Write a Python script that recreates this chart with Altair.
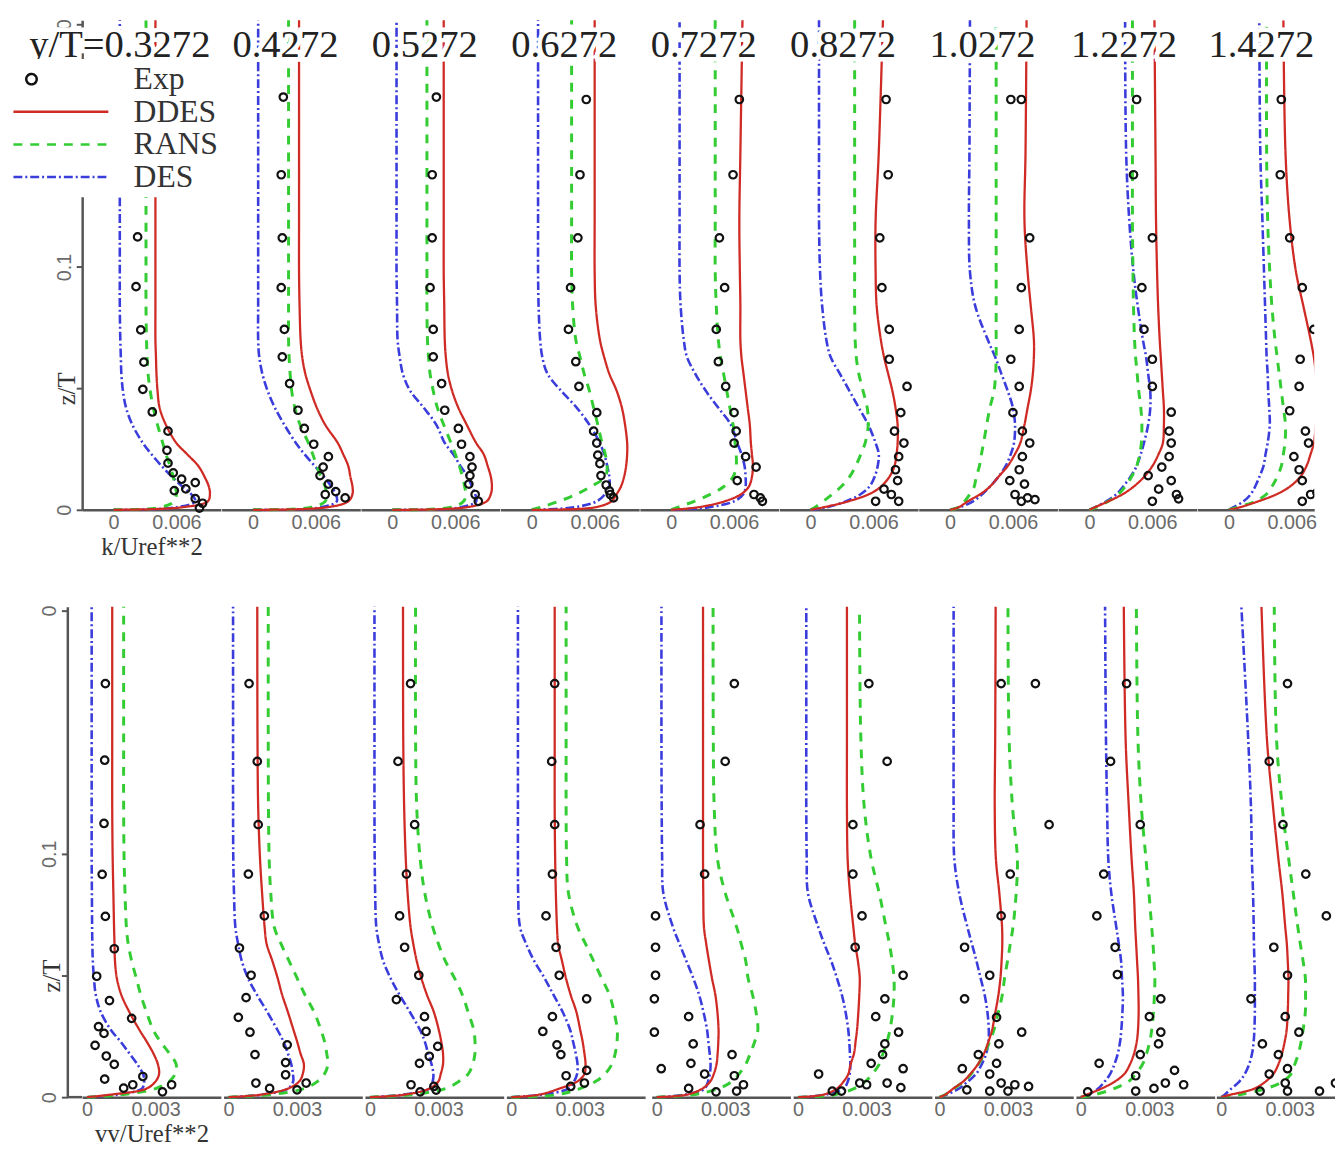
import altair as alt
import pandas as pd

# ---------------- data ----------------
# wall-normal stations for the simulated profiles (z/T)
ZL = [0, 0.001, 0.0035, 0.0065, 0.0095, 0.0135, 0.018, 0.023, 0.0275, 0.035,
      0.042, 0.049, 0.056, 0.063, 0.070, 0.084, 0.098, 0.119, 0.147, 0.2016]

CAPTIONS = ["y/T=0.3272", "0.4272", "0.5272", "0.6272", "0.7272",
            "0.8272", "1.0272", "1.2272", "1.4272"]
CAPTION_X = [0.6, 3.1, 3.1, 3.1, 3.1, 3.1, 3.1, 3.3, 3.1]   # x 1e-3, top-row units
CAPTION_Z = 0.1915

# k/Uref**2 (x 1e-3), one list per station
K_DDES = [
    [0, 6.5, 9.0, 9.2, 9.1, 8.7, 8.1, 7.0, 6.0, 5.0, 4.4, 4.2, 4.1, 4.05, 4.0, 4.0, 4.0, 4.0, 4.0, 4.0],
    [0, 7.0, 9.1, 9.5, 9.5, 9.3, 9.1, 8.6, 8.1, 6.9, 6.1, 5.5, 5.0, 4.7, 4.55, 4.45, 4.4, 4.4, 4.4, 4.4],
    [0, 7.0, 9.0, 9.4, 9.5, 9.4, 9.1, 8.7, 8.0, 7.1, 6.3, 5.7, 5.3, 5.1, 5.0, 4.95, 4.9, 4.9, 4.9, 4.9],
    [0, 6.0, 7.6, 8.1, 8.5, 8.8, 9.0, 9.1, 9.1, 8.9, 8.6, 8.1, 7.4, 6.9, 6.5, 6.1, 6.0, 6.0, 6.0, 6.0],
    [0, 2.5, 5.1, 6.7, 7.4, 7.7, 7.8, 7.7, 7.6, 7.5, 7.3, 7.1, 6.9, 6.7, 6.6, 6.6, 6.55, 6.5, 6.6, 6.8],
    [0, 1.2, 3.6, 5.6, 6.7, 7.5, 8.0, 8.2, 8.3, 8.3, 8.1, 7.8, 7.4, 7.0, 6.7, 6.3, 6.2, 6.2, 6.5, 6.9],
    [0, 0.8, 1.7, 2.9, 3.8, 4.6, 5.5, 6.2, 6.7, 7.1, 7.4, 7.7, 7.9, 8.0, 8.0, 7.7, 7.4, 7.1, 7.2, 7.3],
    [0, 0.5, 1.8, 3.2, 4.2, 5.2, 6.0, 6.6, 7.0, 7.1, 7.1, 7.0, 6.9, 6.8, 6.7, 6.55, 6.45, 6.35, 6.3, 6.2],
    [0, 1.0, 2.8, 4.6, 5.8, 6.8, 7.4, 7.8, 8.1, 8.3, 8.4, 8.4, 8.3, 8.1, 7.8, 7.1, 6.4, 5.8, 5.4, 5.2],
]
K_RANS = [
    [0, 4.5, 5.8, 6.0, 5.9, 5.7, 5.4, 5.0, 4.7, 4.2, 3.8, 3.5, 3.3, 3.2, 3.15, 3.1, 3.1, 3.1, 3.1, 3.1],
    [0, 5.5, 6.9, 7.0, 6.9, 6.5, 6.1, 5.7, 5.3, 4.5, 4.0, 3.7, 3.55, 3.45, 3.4, 3.4, 3.4, 3.4, 3.4, 3.4],
    [0, 5.5, 6.8, 7.0, 6.9, 6.7, 6.4, 6.0, 5.6, 4.9, 4.3, 3.9, 3.6, 3.45, 3.35, 3.3, 3.3, 3.3, 3.3, 3.3],
    [0, 0.8, 2.6, 4.3, 5.6, 7.0, 7.2, 7.0, 6.7, 6.3, 5.9, 5.5, 5.0, 4.6, 4.2, 3.9, 3.8, 3.8, 3.8, 3.8],
    [0, 0.6, 2.2, 3.8, 5.0, 5.9, 6.2, 6.2, 6.1, 5.9, 5.6, 5.3, 5.0, 4.7, 4.5, 4.3, 4.2, 4.2, 4.2, 4.2],
    [0, 0.4, 1.2, 2.1, 2.9, 3.7, 4.3, 4.8, 5.2, 5.5, 5.4, 5.0, 4.6, 4.35, 4.25, 4.2, 4.2, 4.2, 4.2, 4.2],
    [0, 0.8, 1.4, 1.9, 2.3, 2.5, 2.8, 3.0, 3.2, 3.5, 3.8, 4.2, 4.35, 4.4, 4.4, 4.4, 4.4, 4.4, 4.4, 4.4],
    [0, 0.6, 1.8, 2.8, 3.4, 4.0, 4.5, 4.8, 4.95, 5.0, 4.9, 4.7, 4.55, 4.4, 4.3, 4.2, 4.15, 4.1, 4.1, 4.1],
    [0, 0.8, 2.5, 3.6, 4.1, 4.6, 5.0, 5.2, 5.35, 5.4, 5.2, 5.0, 4.8, 4.6, 4.4, 4.1, 3.9, 3.7, 3.6, 3.6],
]
K_DES = [
    [0, 6.0, 7.8, 7.4, 6.6, 5.6, 4.6, 3.6, 2.8, 1.8, 1.2, 0.9, 0.75, 0.7, 0.65, 0.6, 0.6, 0.6, 0.6, 0.6],
    [0, 6.5, 8.0, 7.9, 7.5, 6.8, 5.9, 4.9, 4.1, 3.0, 2.1, 1.4, 0.9, 0.6, 0.5, 0.5, 0.5, 0.5, 0.5, 0.5],
    [0, 6.5, 8.0, 7.9, 7.6, 7.2, 6.5, 5.8, 5.0, 4.2, 3.0, 1.7, 1.0, 0.7, 0.5, 0.45, 0.4, 0.4, 0.4, 0.4],
    [0, 4.0, 6.2, 7.0, 7.4, 7.4, 7.2, 6.9, 6.5, 5.5, 4.3, 2.8, 1.5, 1.0, 0.8, 0.65, 0.6, 0.6, 0.6, 0.6],
    [0, 3.5, 6.0, 6.9, 7.1, 7.1, 7.0, 6.7, 6.3, 5.7, 4.5, 3.3, 2.3, 1.5, 1.2, 0.9, 0.8, 0.8, 0.8, 0.8],
    [0, 1.5, 3.4, 4.8, 5.6, 6.1, 6.4, 6.5, 6.2, 5.5, 4.6, 3.7, 2.8, 1.9, 1.5, 1.1, 0.9, 0.8, 0.8, 0.8],
    [0, 0.9, 2.2, 3.1, 3.8, 4.6, 5.3, 5.8, 6.1, 6.2, 6.0, 5.5, 4.9, 4.3, 3.6, 2.4, 1.9, 1.8, 1.85, 1.9],
    [0, 0.5, 1.6, 2.6, 3.2, 3.9, 4.5, 4.9, 5.2, 5.6, 5.8, 5.8, 5.6, 5.4, 5.1, 4.6, 4.2, 3.8, 3.5, 3.4],
    [0, 0.4, 1.4, 2.1, 2.5, 2.9, 3.3, 3.5, 3.7, 3.9, 3.85, 3.75, 3.7, 3.6, 3.55, 3.45, 3.35, 3.2, 3.0, 2.9],
]
# experiment: (k x 1e-3, z/T)
K_EXP = [
    [(2.4, .169), (2.3, .138), (2.3, .1124), (2.15, .0919), (2.6, .0741), (2.9, .0608), (2.8, .0496),
     (3.7, .0403), (5.2, .0324), (5.1, .0245), (5.2, .0192), (5.7, .0152), (6.5, .0126), (5.8, .0079),
     (6.9, .0086), (7.8, .0112), (7.8, .0046), (8.5, .0027), (8.2, .0007)],
    [(2.9, .170), (2.7, .138), (2.8, .112), (2.7, .0915), (3.0, .0743), (2.8, .063), (3.5, .052),
     (4.3, .041), (4.9, .0335), (5.8, .027), (7.2, .0219), (6.7, .0176), (6.4, .0141), (7.2, .0106),
     (6.9, .0063), (7.9, .0075), (8.8, .0049)],
    [(4.2, .170), (3.8, .138), (3.8, .112), (3.6, .0915), (3.9, .0743), (3.9, .063), (4.7, .052),
     (5.0, .041), (6.3, .0335), (6.6, .027), (7.4, .0219), (7.6, .0176), (7.4, .0141), (7.3, .0106),
     (7.9, .0063), (8.2, .0035)],
    [(5.2, .169), (4.6, .138), (4.4, .112), (3.7, .0915), (3.5, .0743), (4.2, .061), (4.5, .0508),
     (6.2, .040), (5.9, .0324), (6.2, .0275), (6.3, .0225), (6.5, .019), (6.6, .0141), (7.1, .0102),
     (7.4, .0078), (7.5, .0063), (7.8, .0049)],
    [(6.5, .169), (5.9, .138), (4.6, .112), (5.1, .0915), (4.3, .0743), (4.5, .061), (5.2, .0508),
     (6.0, .040), (6.2, .0324), (6.0, .0275), (7.1, .0219), (8.1, .0176), (6.3, .012), (7.9, .0063),
     (8.5, .0049), (8.7, .0035)],
    [(7.2, .169), (7.4, .138), (6.6, .112), (6.8, .0915), (7.5, .0743), (7.5, .062), (9.2, .0508),
     (8.6, .040), (8.0, .0324), (8.9, .0275), (8.4, .0219), (8.1, .0165), (8.3, .012), (7.0, .0085),
     (7.7, .0063), (8.4, .0035), (6.2, .0035)],
    [(5.8, .169), (6.8, .169), (7.6, .112), (6.8, .0915), (6.6, .0743), (5.8, .062), (6.6, .0508),
     (6.0, .040), (6.9, .0324), (7.6, .0275), (6.9, .0219), (6.6, .0165), (5.7, .012), (7.1, .0106),
     (6.2, .0063), (7.4, .0049), (8.1, .0042), (6.8, .0035)],
    [(4.5, .169), (4.2, .138), (6.0, .112), (5.0, .0915), (5.2, .0743), (6.0, .062), (6.0, .0508),
     (7.8, .0402), (7.6, .0324), (7.8, .0275), (7.6, .0219), (6.9, .0176), (5.6, .0141), (7.8, .012),
     (6.6, .0085), (8.3, .0063), (8.5, .0045), (6.0, .0035)],
    [(5.0, .169), (4.9, .138), (5.8, .112), (7.0, .0915), (8.1, .0743), (6.8, .062), (6.7, .0508),
     (5.8, .0408), (7.3, .0324), (7.6, .0275), (6.2, .0219), (6.7, .0165), (7.0, .012), (7.8, .0063),
     (8.4, .007), (8.9, .0049), (7.0, .0035)],
]

# vv/Uref**2 (x 1e-3)
VV_DDES = [
    [0, 1.0, 2.6, 3.0, 3.15, 3.1, 2.9, 2.6, 2.3, 1.85, 1.5, 1.3, 1.22, 1.2, 1.18, 1.15, 1.12, 1.1, 1.1, 1.1],
    [0, 1.4, 2.6, 3.1, 3.25, 3.3, 3.15, 3.0, 2.85, 2.6, 2.35, 2.15, 1.92, 1.67, 1.58, 1.47, 1.38, 1.3, 1.27, 1.26],
    [0, 1.5, 2.6, 3.0, 3.1, 3.2, 3.2, 3.12, 3.02, 2.8, 2.5, 2.25, 2.05, 1.9, 1.78, 1.65, 1.57, 1.5, 1.46, 1.45],
    [0, 1.2, 2.1, 2.9, 3.2, 3.25, 3.2, 3.12, 3.02, 2.85, 2.6, 2.39, 2.22, 2.05, 2.0, 1.95, 1.92, 1.9, 1.9, 1.9],
    [0, 1.3, 2.0, 2.35, 2.5, 2.62, 2.67, 2.7, 2.71, 2.66, 2.57, 2.42, 2.29, 2.17, 2.07, 2.04, 2.03, 2.03, 2.03, 2.03],
    [0, 1.1, 1.7, 2.0, 2.2, 2.3, 2.45, 2.52, 2.58, 2.64, 2.68, 2.7, 2.62, 2.5, 2.42, 2.27, 2.17, 2.14, 2.14, 2.14],
    [0, 0.25, 0.6, 1.05, 1.35, 1.68, 1.95, 2.15, 2.3, 2.45, 2.58, 2.67, 2.72, 2.75, 2.74, 2.62, 2.47, 2.42, 2.44, 2.46],
    [0, 0.25, 0.9, 1.5, 1.9, 2.15, 2.33, 2.45, 2.5, 2.53, 2.52, 2.5, 2.46, 2.42, 2.38, 2.32, 2.22, 2.1, 1.96, 1.88],
    [0, 0.4, 1.45, 1.95, 2.28, 2.5, 2.66, 2.78, 2.86, 2.91, 2.93, 2.94, 2.91, 2.87, 2.8, 2.67, 2.5, 2.27, 2.0, 1.76],
]
VV_RANS = [
    [0, 1.5, 3.0, 3.6, 3.85, 3.9, 3.6, 3.2, 2.9, 2.6, 2.35, 2.15, 1.95, 1.8, 1.72, 1.66, 1.62, 1.6, 1.6, 1.6],
    [0, 1.8, 3.3, 3.9, 4.2, 4.35, 4.3, 4.2, 4.05, 3.75, 3.35, 3.0, 2.65, 2.3, 2.0, 1.85, 1.78, 1.75, 1.74, 1.74],
    [0, 1.8, 3.3, 3.9, 4.3, 4.5, 4.6, 4.6, 4.55, 4.3, 4.05, 3.7, 3.3, 3.0, 2.75, 2.4, 2.2, 2.05, 2.0, 2.0],
    [0, 2.0, 3.0, 3.7, 4.1, 4.4, 4.55, 4.63, 4.64, 4.5, 4.3, 3.95, 3.6, 3.25, 2.9, 2.5, 2.42, 2.4, 2.4, 2.4],
    [0, 1.6, 2.7, 3.3, 3.6, 3.9, 4.1, 4.3, 4.43, 4.35, 4.2, 4.0, 3.9, 3.7, 3.5, 3.0, 2.66, 2.52, 2.48, 2.47],
    [0, 1.6, 2.45, 2.95, 3.25, 3.55, 3.72, 3.9, 4.02, 4.14, 4.2, 4.2, 4.12, 4.0, 3.85, 3.55, 3.2, 2.9, 2.75, 2.69],
    [0, 0.25, 0.62, 1.08, 1.38, 1.7, 1.97, 2.2, 2.38, 2.58, 2.75, 2.85, 2.98, 3.1, 3.22, 3.36, 3.41, 3.2, 3.05, 3.0],
    [0, 0.6, 1.45, 2.1, 2.4, 2.7, 2.88, 3.02, 3.1, 3.18, 3.22, 3.24, 3.2, 3.16, 3.1, 2.98, 2.85, 2.65, 2.5, 2.43],
    [0, 0.8, 1.95, 2.7, 3.05, 3.22, 3.38, 3.5, 3.58, 3.68, 3.69, 3.68, 3.58, 3.46, 3.35, 3.15, 2.95, 2.67, 2.42, 2.32],
]
VV_DES = [
    [0, 1.3, 2.4, 2.5, 2.45, 2.2, 1.85, 1.45, 1.05, 0.6, 0.38, 0.3, 0.25, 0.23, 0.22, 0.21, 0.2, 0.2, 0.2, 0.2],
    [0, 1.4, 2.6, 2.83, 2.82, 2.75, 2.6, 2.4, 2.15, 1.7, 1.25, 0.85, 0.58, 0.42, 0.3, 0.24, 0.21, 0.2, 0.2, 0.2],
    [0, 1.4, 2.6, 2.75, 2.78, 2.7, 2.55, 2.4, 2.2, 1.75, 1.3, 0.9, 0.58, 0.4, 0.28, 0.23, 0.21, 0.2, 0.2, 0.2],
    [0, 1.3, 2.5, 2.75, 2.88, 2.9, 2.82, 2.7, 2.58, 2.25, 1.85, 1.45, 1.0, 0.65, 0.38, 0.3, 0.29, 0.29, 0.29, 0.29],
    [0, 1.2, 2.1, 2.25, 2.33, 2.36, 2.32, 2.26, 2.21, 2.05, 1.86, 1.6, 1.3, 1.0, 0.71, 0.29, 0.24, 0.22, 0.21, 0.21],
    [0, 1.2, 2.0, 2.18, 2.26, 2.29, 2.27, 2.24, 2.2, 2.08, 1.92, 1.7, 1.45, 1.15, 0.88, 0.43, 0.38, 0.36, 0.36, 0.36],
    [0, 0.3, 0.85, 1.25, 1.6, 1.85, 2.05, 2.15, 2.16, 2.1, 1.98, 1.8, 1.62, 1.42, 1.22, 0.86, 0.65, 0.62, 0.62, 0.62],
    [0, 0.3, 0.75, 1.05, 1.28, 1.47, 1.62, 1.72, 1.77, 1.82, 1.84, 1.8, 1.76, 1.66, 1.55, 1.33, 1.2, 1.15, 1.1, 1.06],
    [0, 0.15, 0.44, 0.8, 1.03, 1.22, 1.35, 1.42, 1.45, 1.47, 1.47, 1.47, 1.45, 1.43, 1.42, 1.39, 1.34, 1.3, 1.18, 0.88],
]
VV_EXP = [
    [(0.8, .170), (0.77, .1385), (0.74, .1125), (0.66, .0916), (0.8, .0743), (1.19, .061), (0.42, .0497),
     (0.98, .0397), (1.95, .0324), (0.5, .029), (0.74, .0262), (0.35, .0213), (0.84, .0169), (1.19, .0135),
     (2.44, .0085), (0.77, .0074), (2.0, .0051), (1.6, .0037), (3.3, .0022), (3.7, .0051)],
    [(0.9, .170), (1.26, .138), (1.3, .112), (0.87, .0917), (1.57, .0745), (0.48, .0613), (0.99, .0501),
     (0.77, .0409), (0.43, .0328), (0.94, .0267), (2.57, .0215), (1.16, .0175), (2.5, .0142), (2.5, .0092),
     (1.2, .0058), (3.4, .0058), (1.8, .0036), (3.0, .003)],
    [(1.78, .170), (1.23, .138), (1.96, .112), (1.6, .0917), (1.3, .0745), (1.52, .0616), (2.14, .0501),
     (1.16, .0401), (2.39, .0331), (2.46, .027), (2.97, .0209), (2.6, .0168), (2.17, .0139), (1.8, .0051),
     (2.8, .0044), (2.9, .0029), (2.2, .0022)],
    [(1.9, .170), (1.77, .138), (1.9, .112), (1.8, .0917), (1.52, .0745), (1.96, .0616), (2.1, .0501),
     (3.3, .0404), (1.8, .0331), (1.38, .027), (2.0, .0215), (2.17, .0175), (3.3, .011), (2.4, .0088),
     (3.2, .0058), (2.6, .0044)],
    [(3.4, .170), (3.0, .138), (1.9, .112), (2.1, .0917), (-0.05, .0745), (-0.05, .0616), (-0.05, .0501),
     (-0.1, .0404), (1.4, .0331), (-0.1, .0267), (1.6, .0219), (3.3, .0175), (1.5, .0139), (0.2, .0117),
     (2.1, .0095), (3.4, .0088), (3.8, .0051), (1.4, .0036), (3.5, .0025), (2.6, .0022)],
    [(3.1, .170), (3.9, .138), (2.4, .112), (2.4, .0917), (2.8, .0745), (2.5, .0616), (4.6, .0501),
     (3.8, .0404), (3.4, .0331), (4.4, .0267), (3.8, .0219), (3.7, .0175), (3.2, .0139), (4.6, .0117),
     (0.9, .0095), (2.7, .0058), (3.9, .0058), (3.0, .0051), (4.5, .0039), (1.5, .0025), (1.9, .0025)],
    [(2.7, .170), (4.2, .170), (4.8, .112), (3.1, .0917), (2.7, .0745), (1.1, .0616), (2.2, .0501),
     (1.1, .0404), (2.5, .0328), (3.6, .0267), (2.6, .0219), (1.7, .0175), (2.5, .0139), (1.0, .0117),
     (2.2, .0095), (2.7, .0058), (3.3, .0051), (3.9, .0044), (1.2, .003), (2.2, .0025), (3.0, .0025)],
    [(2.0, .170), (1.3, .138), (2.6, .112), (1.0, .0917), (0.7, .0745), (1.5, .0616), (1.6, .0504),
     (3.5, .0404), (3.0, .0331), (3.5, .0267), (3.4, .0219), (2.6, .0175), (0.8, .0139), (4.1, .011),
     (2.4, .0088), (3.7, .0058), (4.5, .0051), (3.2, .0036), (2.4, .0025), (0.3, .0022)],
    [(2.9, .170), (2.1, .138), (2.7, .112), (3.7, .0917), (4.6, .0745), (2.3, .0616), (2.9, .0501),
     (1.3, .0404), (2.8, .0331), (3.4, .0267), (1.8, .0219), (2.5, .0175), (2.9, .0117), (2.1, .0095),
     (2.8, .0058), (5.0, .0058), (1.7, .0025), (2.9, .0025), (4.3, .0025)],
]

MODELS = ["Exp", "DDES", "RANS", "DES"]
COLORS = ["#111111", "#cf2a24", "#33cc33", "#3a3ddc"]
DASHES = [[1, 0], [1, 0], [9, 8], [9, 3, 2, 3]]
WIDTHS = {"DDES": 2.3, "RANS": 3.0, "DES": 2.6}

# ---------------- layout ----------------
Z_TOP = 0.2016
ROWS = {
    0: dict(ddes=K_DDES, rans=K_RANS, des=K_DES, exp=K_EXP, x0=-0.00299, pxu=10600.0,
            widths=[140.3] * 8 + [118], h=495, ticks=[0, 0.006], xtitle="k/Uref**2",
            ytitleX=-3, yoffset=0),
    1: dict(ddes=VV_DDES, rans=VV_RANS, des=VV_DES, exp=VV_EXP, x0=-0.000216, pxu=23100.0,
            widths=[140.3] * 8 + [120], h=496, ticks=[0, 0.003], xtitle="vv/Uref**2",
            ytitleX=-3, yoffset=15),
}

SERIF = "Liberation Serif"
SANS = "Liberation Sans"
LABEL_GREY = "#6a6a6a"
AXIS_GREY = "#555555"

shape_path_exp = "M-0.51,0A0.11,0.11,0,1,1,-0.73,0A0.11,0.11,0,1,1,-0.51,0Z"
COLOR_SCALE = alt.Scale(domain=MODELS, range=COLORS)
SHAPE_SCALE = alt.Scale(domain=MODELS, range=[shape_path_exp, "stroke", "stroke", "stroke"])
DASH_SCALE = alt.Scale(domain=MODELS, range=DASHES)
LEGEND = alt.Legend(title=None, orient="none", legendX=-75, legendY=39,
                    labelFont=SERIF, labelFontSize=32, labelColor="#333333",
                    symbolSize=9216, symbolStrokeWidth=2.5, clipHeight=33,
                    labelOffset=24, padding=4, fillColor="white", rowPadding=0)


def panel(row, i):
    R = ROWS[row]
    w = R["widths"][i]
    h = R["h"]
    xs = alt.Scale(domain=[R["x0"], R["x0"] + w / R["pxu"]], nice=False, zero=False)
    ys = alt.Scale(domain=[0, Z_TOP], nice=False, zero=False)
    xaxis = alt.Axis(values=R["ticks"], format=".3~f", title=(R["xtitle"] if i == 0 else None),
                     labelFont=SANS, labelFontSize=20, labelColor=LABEL_GREY, labelPadding=3,
                     labelFlush=False, ticks=False, domainColor=AXIS_GREY, domainWidth=2.5,
                     grid=False, titleFont=SERIF, titleFontSize=25, titleFontWeight="normal",
                     titleColor="#333333", titlePadding=2)
    if i == 0:
        yaxis = alt.Axis(values=[0, 0.05, 0.1, 0.2], offset=R["yoffset"],
                         labelExpr="datum.value == 0.1 ? '0.1' : (datum.value == 0.05 ? '' : '0')",
                         labelAngle=270, labelAlign="center", labelBaseline="bottom",
                         labelFont=SANS, labelFontSize=20, labelColor=LABEL_GREY, labelPadding=2,
                         labelOverlap=False, tickSize=6, tickWidth=2, tickColor=AXIS_GREY,
                         domainColor=AXIS_GREY, domainWidth=2.5, grid=False,
                         title="z/T", titleFont=SERIF, titleFontSize=25, titleFontWeight="normal",
                         titleColor="#333333", titleAngle=270, titleAlign="center",
                         titleBaseline="bottom", titleX=R["ytitleX"],
                         titleY=h * (1 - 0.05 / Z_TOP))
    else:
        yaxis = None
    clip = (i == 8)

    layers = []
    if i == 0 and R["yoffset"] > 0:
        # continue the horizontal axis line to the displaced vertical axis
        layers.append(
            alt.Chart(pd.DataFrame({"a": [0]})).mark_rule(color=AXIS_GREY, strokeWidth=2.5).encode(
                x=alt.value(-R["yoffset"]), x2=alt.value(0), y=alt.value(h))
        )
    for name, series in [("DES", R["des"]), ("RANS", R["rans"]), ("DDES", R["ddes"])]:
        k = MODELS.index(name)
        df = pd.DataFrame({"z": ZL, "v": [v * 1e-3 for v in series[i]], "idx": list(range(len(ZL)))})
        layers.append(
            alt.Chart(df).mark_line(color=COLORS[k], strokeDash=DASHES[k], strokeWidth=WIDTHS[name],
                                    interpolate="catmull-rom", clip=clip).encode(
                x=alt.X("v:Q", scale=xs, axis=xaxis),
                y=alt.Y("z:Q", scale=ys, axis=yaxis),
                order=alt.Order("idx:Q"),
            )
        )
    exp = R["exp"][i]
    dfe = pd.DataFrame({"v": [p[0] * 1e-3 for p in exp], "z": [p[1] for p in exp], "model": "Exp"})
    layers.append(
        alt.Chart(dfe).mark_point(shape="circle", filled=False, size=58, strokeWidth=2.2,
                                  color="#111111", opacity=1, clip=clip).encode(
            x=alt.X("v:Q", scale=xs, axis=xaxis),
            y=alt.Y("z:Q", scale=ys, axis=yaxis),
        )
    )
    if row == 0:
        dft = pd.DataFrame({"t": [CAPTIONS[i]], "tx": [CAPTION_X[i] * 1e-3], "tz": [CAPTION_Z]})
        for halo in (True, False):
            props = dict(font=SERIF, fontSize=39, align="center", baseline="middle")
            if halo:
                props.update(fill="white", stroke="white", strokeWidth=9)
            else:
                props.update(color="#222222")
            layers.append(
                alt.Chart(dft).mark_text(**props).encode(
                    x=alt.X("tx:Q", scale=xs, axis=xaxis),
                    y=alt.Y("tz:Q", scale=ys, axis=yaxis),
                    text="t:N",
                )
            )
    if row == 0 and i == 0:
        layers.append(
            alt.Chart(dfe).transform_filter("false").mark_point(filled=False, opacity=1, strokeWidth=2.5).encode(
                x=alt.X("v:Q", scale=xs, axis=xaxis),
                y=alt.Y("z:Q", scale=ys, axis=yaxis),
                color=alt.Color("model:N", scale=COLOR_SCALE, legend=LEGEND),
                shape=alt.Shape("model:N", scale=SHAPE_SCALE, legend=LEGEND),
                strokeDash=alt.StrokeDash("model:N", scale=DASH_SCALE, legend=LEGEND),
            )
        )
    return alt.layer(*layers).properties(width=w, height=h)


top = alt.hconcat(*[panel(0, i) for i in range(9)], spacing=0)
bottom = alt.hconcat(*[panel(1, i) for i in range(9)], spacing=0)
chart = alt.vconcat(top, bottom, spacing=42).properties(padding=0).configure_view(strokeWidth=0)

chart.save("out.html", embed_options={"renderer": "svg", "actions": False})
